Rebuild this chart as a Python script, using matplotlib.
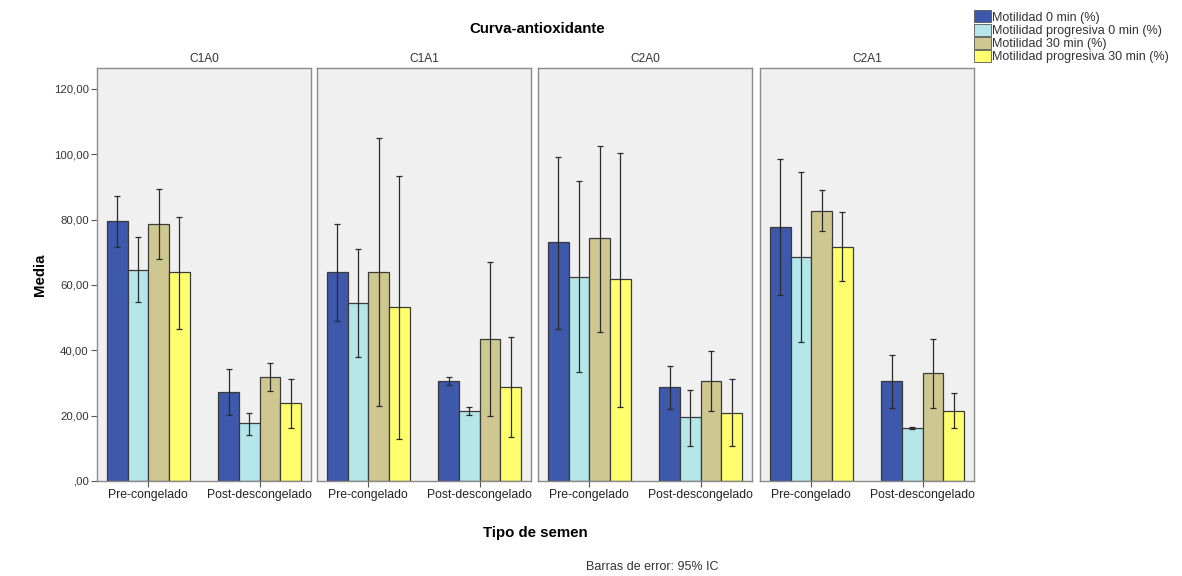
import matplotlib
matplotlib.use("Agg")
import matplotlib.pyplot as plt
import numpy as np
from matplotlib.patches import Patch

plt.rcParams['font.family'] = ['Liberation Sans', 'DejaVu Sans']

panels = ["C1A0", "C1A1", "C2A0", "C2A1"]
categories = ["Pre-congelado", "Post-descongelado"]
series = ["Motilidad 0 min (%)", "Motilidad progresiva 0 min (%)",
          "Motilidad 30 min (%)", "Motilidad progresiva 30 min (%)"]
colors = ["#3E58AC", "#B5E6E9", "#CFC790", "#FFFF6E"]

# means per series: [panel][category]
mot0 = [[79.6, 27.3], [63.9, 30.7], [73.0, 28.7], [77.8, 30.7]]
prog0 = [[64.6, 17.6], [54.6, 21.4], [62.5, 19.5], [68.7, 16.3]]
mot30 = [[78.7, 31.9], [64.1, 43.5], [74.3, 30.7], [82.7, 33.0]]
prog30 = [[63.9, 23.8], [53.4, 28.7], [61.7, 20.7], [71.7, 21.4]]

# 95% CI upper / lower bounds
mot0_hi = [[87.2, 34.2], [78.7, 31.7], [99.3, 35.2], [98.4, 38.6]]
mot0_lo = [[71.7, 20.2], [49.0, 29.4], [46.4, 21.9], [56.9, 22.4]]
prog0_hi = [[74.8, 20.9], [70.9, 22.8], [91.9, 27.9], [94.5, 16.6]]
prog0_lo = [[54.9, 14.1], [38.1, 20.2], [33.5, 10.7], [42.6, 15.9]]
mot30_hi = [[89.3, 36.2], [104.9, 67.1], [102.5, 39.9], [89.1, 43.4]]
mot30_lo = [[68.0, 27.5], [23.1, 20.0], [45.7, 21.4], [76.6, 22.2]]
prog30_hi = [[80.9, 31.1], [93.2, 44.2], [100.5, 31.1], [82.2, 27.0]]
prog30_lo = [[46.4, 16.1], [13.0, 13.6], [22.5, 10.7], [61.3, 16.1]]

means = [mot0, prog0, mot30, prog30]
his = [mot0_hi, prog0_hi, mot30_hi, prog30_hi]
los = [mot0_lo, prog0_lo, mot30_lo, prog30_lo]

yticks = [0, 20, 40, 60, 80, 100, 120]

W, H = 1182, 576
fig = plt.figure(figsize=(W / 100, H / 100), dpi=100)
fig.patch.set_facecolor("white")

lefts = [97, 317, 538, 760]
pw = 214
top_px, bot_px = 68, 481

def fmt(v):
    s = f"{v:.2f}".replace(".", ",")
    if s.startswith("0,"):
        s = s[1:]
    return s

x = np.arange(len(categories))
bw = 0.185
offsets = (np.arange(4) - 1.5) * bw
for p, name in enumerate(panels):
    ax = fig.add_axes([lefts[p] / W, 1 - bot_px / H, pw / W, (bot_px - top_px) / H])
    ax.set_facecolor("#F0F0F0")
    for s in range(4):
        m = np.array([means[s][p][c] for c in range(2)])
        hi = np.array([his[s][p][c] for c in range(2)])
        lo = np.array([los[s][p][c] for c in range(2)])
        ax.bar(x + offsets[s], m, width=bw, color=colors[s], edgecolor="#3a3a3a",
               linewidth=0.9, zorder=2)
        ax.errorbar(x + offsets[s], m, yerr=[m - lo, hi - m], fmt="none",
                    ecolor="#2a2a2a", elinewidth=0.9, capsize=2, capthick=0.9, zorder=3)
    ax.set_xlim(-0.46, 1.46)
    ax.set_ylim(0, 126.4)
    ax.set_xticks(x)
    ax.set_xticklabels(categories, fontsize=8.8, color="#222222")
    ax.tick_params(axis="x", length=4, width=0.8, color="#555555", pad=2)
    for sp in ax.spines.values():
        sp.set_color("#8a8a8a")
        sp.set_linewidth(1.0)
    if p == 0:
        ax.set_yticks(yticks)
        ax.set_yticklabels([fmt(v) for v in yticks], fontsize=8.2, color="#333333")
        ax.tick_params(axis="y", length=4, width=0.8, color="#555555", pad=2)
    else:
        ax.set_yticks([])
    ax.set_title(name, fontsize=8.6, color="#333333", pad=4)

fig.text(537 / W, 1 - 29 / H, "Curva-antioxidante", fontsize=10.8, fontweight="bold",
         ha="center", va="center")
fig.text(40 / W, 1 - 275 / H, "Media", fontsize=10.8, fontweight="bold", rotation=90,
         ha="center", va="center")
fig.text(535 / W, 1 - 533 / H, "Tipo de semen", fontsize=10.8, fontweight="bold",
         ha="center", va="center")
fig.text(652 / W, 1 - 567 / H, "Barras de error: 95% IC", fontsize=9, color="#333333",
         ha="center", va="center")

handles = [Patch(facecolor=c, edgecolor="#555555", linewidth=0.6) for c in colors]
leg = fig.legend(handles, series, loc="upper left", bbox_to_anchor=(973 / W, 1 - 9 / H),
                 frameon=False, fontsize=9, handlelength=1.3, handleheight=1.1,
                 handletextpad=0.15, labelspacing=0.0, borderpad=0.1, borderaxespad=0)
for t in leg.get_texts():
    t.set_color("#333333")

fig.savefig("out.png", dpi=100)
